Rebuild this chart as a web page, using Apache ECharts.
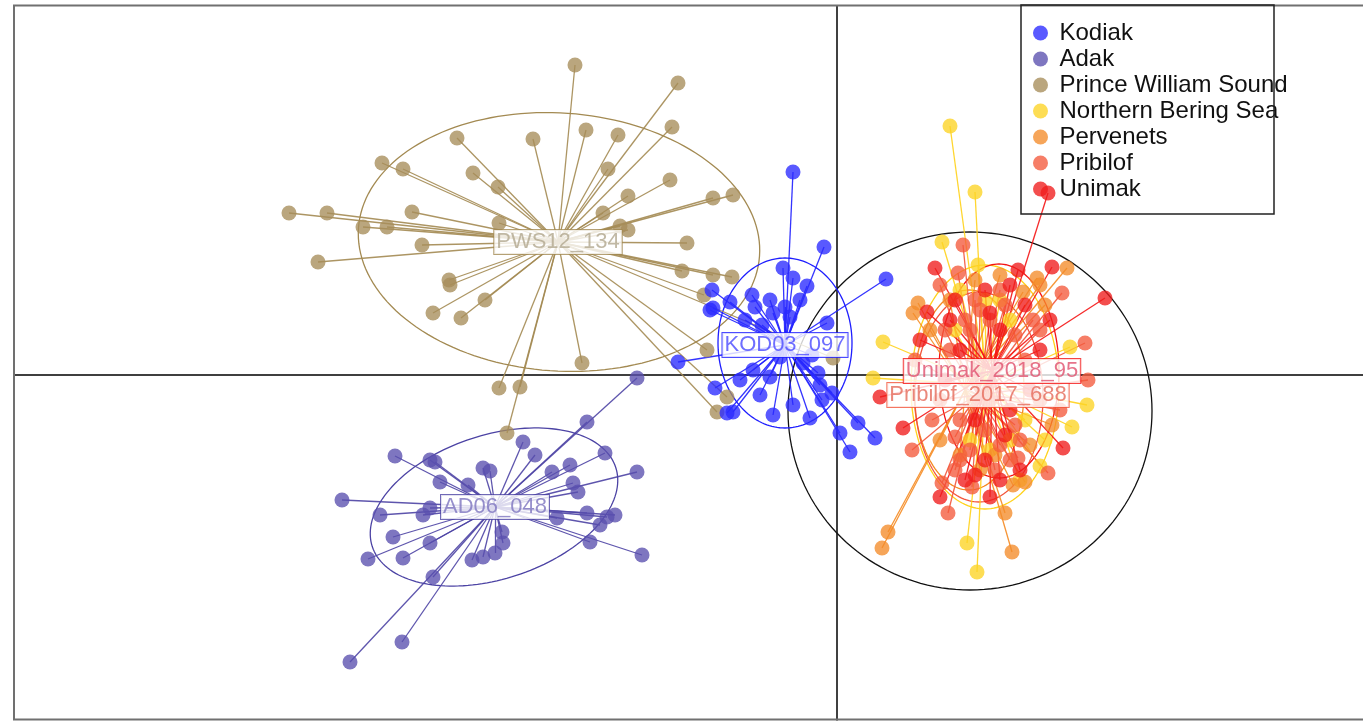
<!DOCTYPE html>
<html><head><meta charset="utf-8">
<script src="https://cdn.jsdelivr.net/npm/echarts@6/dist/echarts.min.js"></script>
<style>html,body{margin:0;padding:0;background:#fff}#c{width:1363px;height:721px}</style>
</head><body><div id="c"></div>
<script>
// ---- Data (discriminant function units) ----
const groupNames = ['Kodiak','Adak','Prince William Sound','Northern Bering Sea','Pervenets','Pribilof','Unimak'];

const kodiakPoints = [[-0.44,2.03],[-0.13,1.28],[0.49,0.96],[-0.54,1.07],[-0.44,0.97],[-0.30,0.89],[-1.25,0.85],[-1.07,0.73],[-1.27,0.65],[-0.85,0.80],[-0.67,0.75],[-0.82,0.68],[-0.52,0.68],[-0.64,0.62],[-0.47,0.58],[-0.10,0.52],[-1.59,0.13],[-0.84,0.05],[-0.67,-0.02],[-0.34,0.12],[-0.19,0.02],[-1.22,-0.13],[-0.77,-0.20],[-0.17,-0.10],[-0.44,-0.30],[-0.64,-0.40],[-0.27,-0.43],[-0.15,-0.25],[0.21,-0.48],[0.03,-0.58],[0.38,-0.63],[0.13,-0.77],[-1.10,-0.38],[-1.24,0.67],[-1.04,-0.37],[-0.92,0.55],[-0.75,0.50],[-0.37,0.75],[-0.25,0.20],[-0.57,0.18],[-0.97,-0.05],[-0.05,-0.18]];
const adakPoints = [[-2.50,-0.47],[-3.14,-0.67],[-3.02,-0.80],[-4.42,-0.81],[-4.07,-0.85],[-4.02,-0.87],[-2.32,-0.78],[-2.67,-0.90],[-2.85,-0.97],[-2.00,-0.97],[-3.54,-0.93],[-3.47,-0.96],[-3.97,-1.07],[-3.69,-1.10],[-2.64,-1.08],[-2.59,-1.17],[-4.95,-1.25],[-4.57,-1.40],[-4.14,-1.40],[-4.07,-1.33],[-2.50,-1.38],[-2.22,-1.40],[-2.30,-1.42],[-2.37,-1.50],[-2.80,-1.43],[-3.35,-1.57],[-3.34,-1.68],[-4.44,-1.62],[-4.07,-1.68],[-2.47,-1.67],[-1.95,-1.80],[-4.69,-1.84],[-4.34,-1.83],[-3.65,-1.85],[-3.54,-1.82],[-3.42,-1.78],[-4.04,-2.02],[-4.35,-2.67],[-4.87,-2.87],[-2.00,-0.03]];
const pwsPoints = [[-2.62,3.10],[-1.59,2.92],[-1.65,2.48],[-3.80,2.37],[-3.04,2.36],[-2.51,2.45],[-2.19,2.40],[-4.55,2.12],[-4.34,2.06],[-3.64,2.02],[-3.39,1.88],[-2.29,2.06],[-1.67,1.95],[-2.09,1.79],[-1.04,1.80],[-1.24,1.77],[-2.34,1.62],[-5.48,1.62],[-5.10,1.62],[-4.25,1.63],[-3.38,1.52],[-4.74,1.48],[-4.50,1.48],[-2.17,1.49],[-2.09,1.45],[-4.15,1.30],[-1.50,1.32],[-5.19,1.13],[-1.55,1.04],[-1.24,1.00],[-1.05,0.98],[-3.88,0.95],[-3.87,0.90],[-3.52,0.75],[-4.04,0.62],[-3.76,0.57],[-2.55,0.12],[-1.30,0.25],[-1.33,0.80],[-1.10,-0.22],[-1.20,-0.37],[-3.38,-0.13],[-3.17,-0.12],[-3.30,-0.58],[-0.04,0.17]];
const nbsPoints = [[1.13,2.49],[1.38,1.83],[1.05,1.33],[1.41,1.10],[0.46,0.33],[2.33,0.28],[0.36,-0.03],[2.50,-0.30],[2.35,-0.52],[1.30,-1.68],[1.40,-1.97],[1.23,0.85],[1.63,0.75],[2.03,-0.91],[1.73,-0.65],[1.18,0.45],[1.88,-0.45],[1.53,-0.75],[1.48,0.75],[1.73,0.55],[1.33,-0.65],[2.08,-0.65],[1.83,-1.05]];
const pervenetsPoints = [[2.30,1.07],[2.00,0.97],[0.81,0.72],[0.76,0.62],[1.86,0.83],[0.51,-1.57],[0.45,-1.73],[1.68,-1.38],[1.75,-1.77],[2.15,-0.50],[1.88,-1.07],[1.76,-1.10],[1.13,0.75],[1.03,-0.65],[1.43,-0.95],[1.38,0.95],[1.63,1.00],[1.58,-0.80],[1.23,-0.80],[1.93,-0.70],[0.93,0.45],[2.08,0.70],[2.03,0.90]];
const pribilofPoints = [[1.26,1.30],[1.21,1.02],[1.03,0.90],[2.25,0.82],[1.96,0.55],[2.48,0.32],[2.51,-0.05],[0.75,-0.75],[0.95,-0.45],[2.11,-0.98],[1.11,-1.38],[1.05,-1.08],[1.35,-1.12],[1.81,-0.83],[1.18,-0.62],[0.78,0.15],[2.23,-0.35],[1.33,0.45],[1.63,0.85],[1.83,-0.65],[1.23,-0.85],[1.53,-0.25],[1.08,0.45],[2.03,0.45],[1.38,0.75],[1.53,0.55],[1.68,0.70],[1.28,0.55],[1.78,0.40],[1.13,0.25],[1.88,0.15],[1.23,-0.45],[1.48,-0.55],[1.63,-0.70],[1.78,-0.50],[1.33,-0.75],[1.03,-0.25],[2.03,-0.25],[1.58,-0.95],[1.43,0.65],[1.73,-0.85],[1.18,-0.95]];
const unimakPoints = [[2.11,1.82],[0.98,1.07],[1.81,1.05],[2.15,1.08],[2.68,0.77],[0.90,0.63],[0.83,0.35],[1.53,0.62],[0.43,-0.22],[0.66,-0.53],[1.03,-1.22],[1.53,-1.22],[2.26,-0.73],[1.63,0.45],[1.23,0.25],[2.03,0.25],[1.38,-0.45],[1.73,-0.35],[1.08,-0.05],[1.93,-0.15],[1.48,-0.85],[1.63,-1.05],[1.18,0.75],[1.88,0.70],[1.48,0.85],[1.73,0.90],[1.38,-1.00],[1.68,-0.60],[1.13,0.55],[2.13,0.55],[1.83,-0.95],[1.28,-1.05]];

// group centroids
const centroids = [[-0.52,0.30],[-3.42,-1.32],[-2.79,1.33],[1.48,-0.10],[1.28,-0.15],[1.41,-0.20],[1.55,0.04]];
// label texts at centroids (null = hidden under others)
const centroidLabels = ['KOD03_097','AD06_048','PWS12_134',null,null,'Pribilof_2017_688','Unimak_2018_95'];
// ellipses: [cx, cy, semi-axis x, semi-axis y, rotation deg]
const ellipses = [[-0.52,0.32,0.67,0.85,0],[-3.43,-1.32,1.28,0.72,18],[-2.78,1.33,2.01,1.29,-4],[1.48,-0.12,0.74,1.22,0],[1.32,-0.15,0.55,1.00,0],[1.42,-0.22,0.64,1.05,0],[1.62,0.04,0.60,1.07,0]];
const outerCircle = [1.33,-0.36,1.82,1.79,0];

const allPoints = [kodiakPoints, adakPoints, pwsPoints, nbsPoints, pervenetsPoints, pribilofPoints, unimakPoints];

// ---- Styles ----
const pointColors = ['#2a2aff','#5a4fae','#a68d5a','#fcd424','#f48c2a','#f35a3c','#f01c1c'];
const lineColors  = ['#1e1eff','#4c43a4','#a38a52','#ffd21a','#f58a20','#f3543a','#f41414'];
const labelTextColors = ['#4a4aff','#7d74bf','#b2a78e','#e0c040','#f0a060','#e56a5a','#e0506e'];
const drawOrder = [2,1,0,3,4,5,6];

function ellipseSeries(p, color, width, z) {
  return {
    type:'custom', coordinateSystem:'cartesian2d', silent:true, z:z, clip:false,
    data:[[p[0],p[1]]],
    renderItem(params, api) {
      const [cx,cy,a,b,ang] = p; const r = ang*Math.PI/180; const pts = [];
      for (let i=0;i<=160;i++) {
        const t = i/160*2*Math.PI; const ex = a*Math.cos(t), ey = b*Math.sin(t);
        pts.push(api.coord([cx+ex*Math.cos(r)-ey*Math.sin(r), cy+ex*Math.sin(r)+ey*Math.cos(r)]));
      }
      return {type:'polyline', shape:{points:pts}, style:{stroke:color, fill:'none', lineWidth:width}};
    }
  };
}

const series = [];
series.push(ellipseSeries(outerCircle, '#111', 1.3, 1));
drawOrder.forEach(g => series.push(ellipseSeries(ellipses[g], lineColors[g], 1.3, 1)));
drawOrder.forEach(g => series.push({
  type:'lines', coordinateSystem:'cartesian2d', silent:true, z:2, polyline:false,
  lineStyle:{color:lineColors[g], width:1.3, opacity:0.9},
  data: allPoints[g].map(p => ({coords:[centroids[g], p]}))
}));
drawOrder.forEach(g => series.push({
  type:'scatter', name:groupNames[g], z:3, symbol:'circle', symbolSize:15, silent:true,
  itemStyle:{color:pointColors[g], opacity:0.78},
  data: allPoints[g]
}));
drawOrder.forEach(g => {
  if (!centroidLabels[g]) return;
  series.push({
    type:'scatter', z:6, symbolSize:1, silent:true, itemStyle:{color:'transparent'},
    data:[{value:centroids[g]}],
    label:{show:true, position:'inside', formatter:centroidLabels[g], fontSize:22,
      fontFamily:'Liberation Sans', color:labelTextColors[g], backgroundColor:'#fff',
      borderColor:lineColors[g], borderWidth:1, padding:[1,2,0,2], lineHeight:23}
  });
});

const chart = echarts.init(document.getElementById('c'), null, {renderer:'canvas'});
chart.setOption({
  animation:false,
  backgroundColor:'#fff',
  grid:{left:14, right:0, top:6, bottom:1, show:false},
  xAxis:{type:'value', min:-8.23, max:5.26, axisLine:{show:true, onZero:true, lineStyle:{color:'#000', width:1.5}},
    axisTick:{show:false}, axisLabel:{show:false}, splitLine:{show:false}},
  yAxis:{type:'value', min:-3.45, max:3.69, axisLine:{show:true, onZero:true, lineStyle:{color:'#000', width:1.5}},
    axisTick:{show:false}, axisLabel:{show:false}, splitLine:{show:false}},
  legend:{data:groupNames.map(n=>({name:n, icon:'circle'})), orient:'vertical', left:1033, top:21,
    itemWidth:28, itemHeight:15, itemGap:2, padding:0, selectedMode:false, symbolKeepAspect:true,
    textStyle:{fontSize:24, lineHeight:20, color:'#111', fontFamily:'Liberation Sans'}},
  graphic:[
    {type:'polyline', z:100, silent:true, shape:{points:[[1363,5.5],[14,5.5],[14,719.5],[1363,719.5]]}, style:{fill:'none', stroke:'#707070', lineWidth:2}},
    {type:'rect', z:100, silent:true, shape:{x:1021, y:5, width:253, height:209}, style:{fill:'none', stroke:'#222', lineWidth:1.5}}
  ],
  series: series
});
</script></body></html>
